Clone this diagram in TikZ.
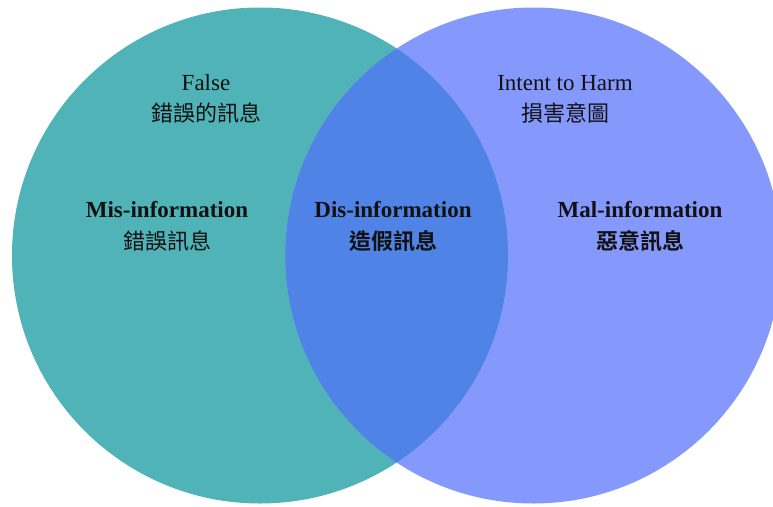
\documentclass[tikz,border=0pt]{standalone}
\usepackage{fontspec}
\setmainfont{Liberation Serif}
\newfontfamily\cjk{Noto Sans CJK TC}
\newfontfamily\cjkb{Noto Sans CJK TC Bold}
\definecolor{tealc}{HTML}{4FB3B8}
\definecolor{bluec}{HTML}{8599FD}
\definecolor{overc}{HTML}{5083E6}
\definecolor{txt}{HTML}{111111}
\begin{document}
\begin{tikzpicture}[x=1pt,y=-1pt,
  lbl/.style={text=txt,inner sep=0pt,anchor=center,font=\fontsize{23}{26}\selectfont},
  blbl/.style={lbl,font=\fontsize{23}{26}\selectfont\bfseries},
  clbl/.style={lbl,font=\fontsize{22}{24}\selectfont\cjk},
  cblbl/.style={lbl,font=\fontsize{22}{24}\selectfont\cjkb}]
\useasboundingbox (0,0) rectangle (773,506);
\fill[white] (0,0) rectangle (773,506);
\coordinate (cl) at (260,255.5);
\coordinate (cr) at (533.3,255.5);
\fill[tealc] (cl) circle[radius=248];
\fill[bluec] (cr) circle[radius=248];
\begin{scope}
  \clip (cl) circle[radius=248];
  \fill[overc] (cr) circle[radius=248];
\end{scope}
\node[lbl] (false) at (206,83) {False};
\node[clbl] (falsezh) at (206,113) {錯誤的訊息};
\node[blbl] (mis) at (167,210) {Mis-information};
\node[clbl] (miszh) at (167,241) {錯誤訊息};
\node[blbl] (dis) at (393,210) {Dis-information};
\node[cblbl] (diszh) at (393,241) {造假訊息};
\node[lbl] (harm) at (565,83) {Intent to Harm};
\node[clbl] (harmzh) at (565,113) {損害意圖};
\node[blbl] (mal) at (640,210) {Mal-information};
\node[cblbl] (malzh) at (640,241) {惡意訊息};
\end{tikzpicture}
\end{document}
